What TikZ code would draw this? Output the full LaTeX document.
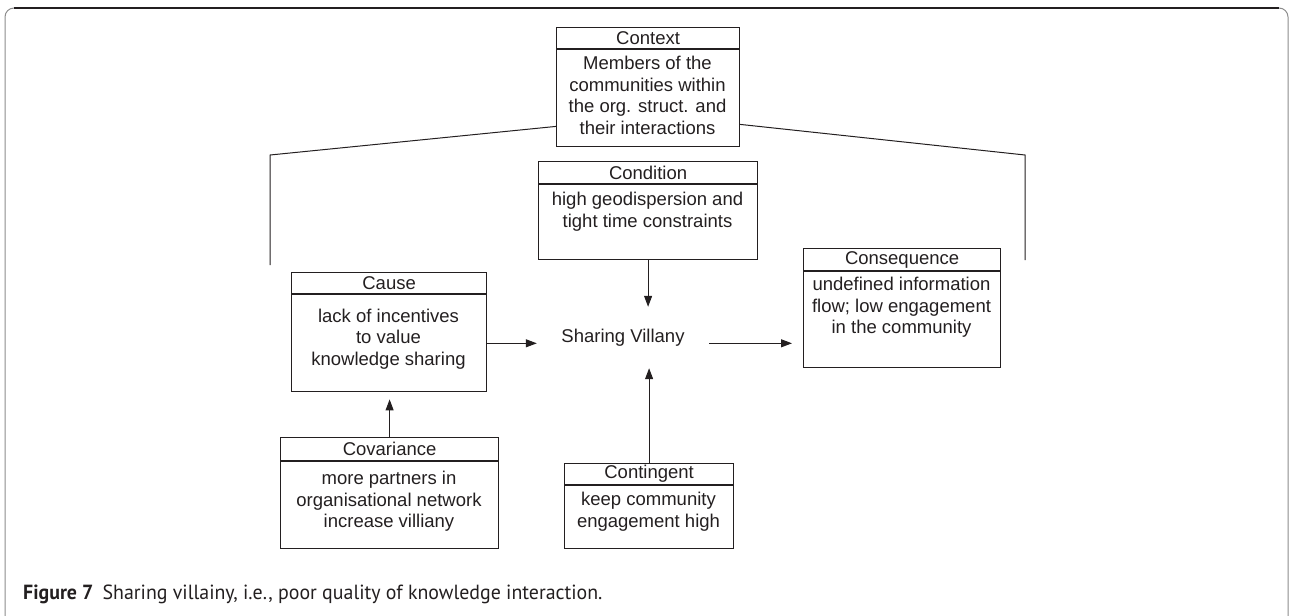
\documentclass[tikz,border=0pt]{standalone}
\usepackage{fontspec}
\setmainfont{Liberation Sans}
\newfontfamily\capfont{PT Sans}[FakeStretch=0.97]
\usetikzlibrary{arrows.meta,calc}
\definecolor{ink}{HTML}{231F20}
\definecolor{framegray}{HTML}{8C8C8C}
\begin{document}
\begin{tikzpicture}[x=1pt,y=-1pt,
  boxline/.style={draw=ink,line width=1.2pt},
  titlebox/.style={boxline,anchor=north west,inner sep=0pt,text=ink,
    font=\fontsize{18.5}{21.5}\selectfont},
  bodybox/.style={boxline,anchor=north west,inner sep=0pt},
  bodytext/.style={align=center,inner sep=0pt,text=ink,
    font=\fontsize{18.5}{21.5}\selectfont},
  arr/.style={draw=ink,line width=1pt,-{Triangle[length=11pt,width=8pt]}},
  link/.style={draw=ink,line width=1pt}]
\useasboundingbox (0,0) rectangle (1291,616);

% frame
\draw[framegray,line width=1pt,rounded corners=9pt] (5,650) -- (5,8) -- (1288,8) -- (1288,650);
\draw[ink,line width=1.3pt] (14,8) -- (1279,8);

% Context
\node[titlebox,minimum width=183,minimum height=21] (ctxT) at (556,27) {Context};
\node[bodybox,minimum width=183,minimum height=97] (ctxB) at (ctxT.south west) {};
\node[bodytext] (ctxX) at (647.5,95.5) {Members of the\\communities within\\the org. struct. and\\their interactions};

% Condition
\node[titlebox,minimum width=219,minimum height=22] (condT) at (538,161) {Condition};
\node[bodybox,minimum width=219,minimum height=75] (condB) at (condT.south west) {};
\node[bodytext] (condX) at (647.5,211.5) {high geodispersion and\\tight time constraints};

% Consequence
\node[titlebox,minimum width=197,minimum height=22] (conT) at (803,248) {Consequence};
\node[bodybox,minimum width=197,minimum height=96] (conB) at (conT.south west) {};
\node[bodytext] (conX) at (901.5,307.5) {undefined information\\flow; low engagement\\in the community};

% Cause
\node[titlebox,minimum width=195,minimum height=21] (cauT) at (291,272) {Cause};
\node[bodybox,minimum width=195,minimum height=97] (cauB) at (cauT.south west) {};
\node[bodytext] (cauX) at (388.5,339) {lack of incentives\\to value\\knowledge sharing};

% Covariance
\node[titlebox,minimum width=218,minimum height=23] (covT) at (280,437) {Covariance};
\node[bodybox,minimum width=218,minimum height=87] (covB) at (covT.south west) {};
\node[bodytext] (covX) at (389,501.5) {more partners in\\organisational network\\increase villiany};

% Contingent
\node[titlebox,minimum width=169,minimum height=21] (ctgT) at (564,463) {Contingent};
\node[bodybox,minimum width=169,minimum height=63] (ctgB) at (ctgT.south west) {};
\node[bodytext] (ctgX) at (648.5,511.5) {keep community\\engagement high};

% centre
\node[bodytext,minimum width=172,minimum height=61] (sv) at (623,337.5) {Sharing Villany};

% context links
\coordinate (cl) at (270,155);
\coordinate (clb) at (270,265);
\coordinate (cr) at (1025,155);
\coordinate (crb) at (1025,260);
\draw[link] ([yshift=21pt]ctxB.south west) -- (cl) -- (clb);
\draw[link] ([yshift=23pt]ctxB.south east) -- (cr) -- (crb);

% arrows
\draw[arr] (condB.south) -- (condB.south |- sv.north);
\draw[arr] (ctgT.north) -- (ctgT.north |- sv.south);
\draw[arr] (cauB.east) -- (cauB.east -| sv.west);
\draw[arr,shorten >=11pt] (sv.east |- cauB.east) -- (conB.west |- cauB.east);
\draw[arr,shorten >=7pt] (covT.north) -- (covT.north |- cauB.south);

% caption
\node[anchor=base west,inner sep=0pt,text=ink,font=\capfont\fontsize{20.5}{24}\selectfont] (cap) at (23,599)
  {\textbf{Figure 7}\hspace{0.45em}Sharing villainy, i.e., poor quality of knowledge interaction.};
\end{tikzpicture}
\end{document}
